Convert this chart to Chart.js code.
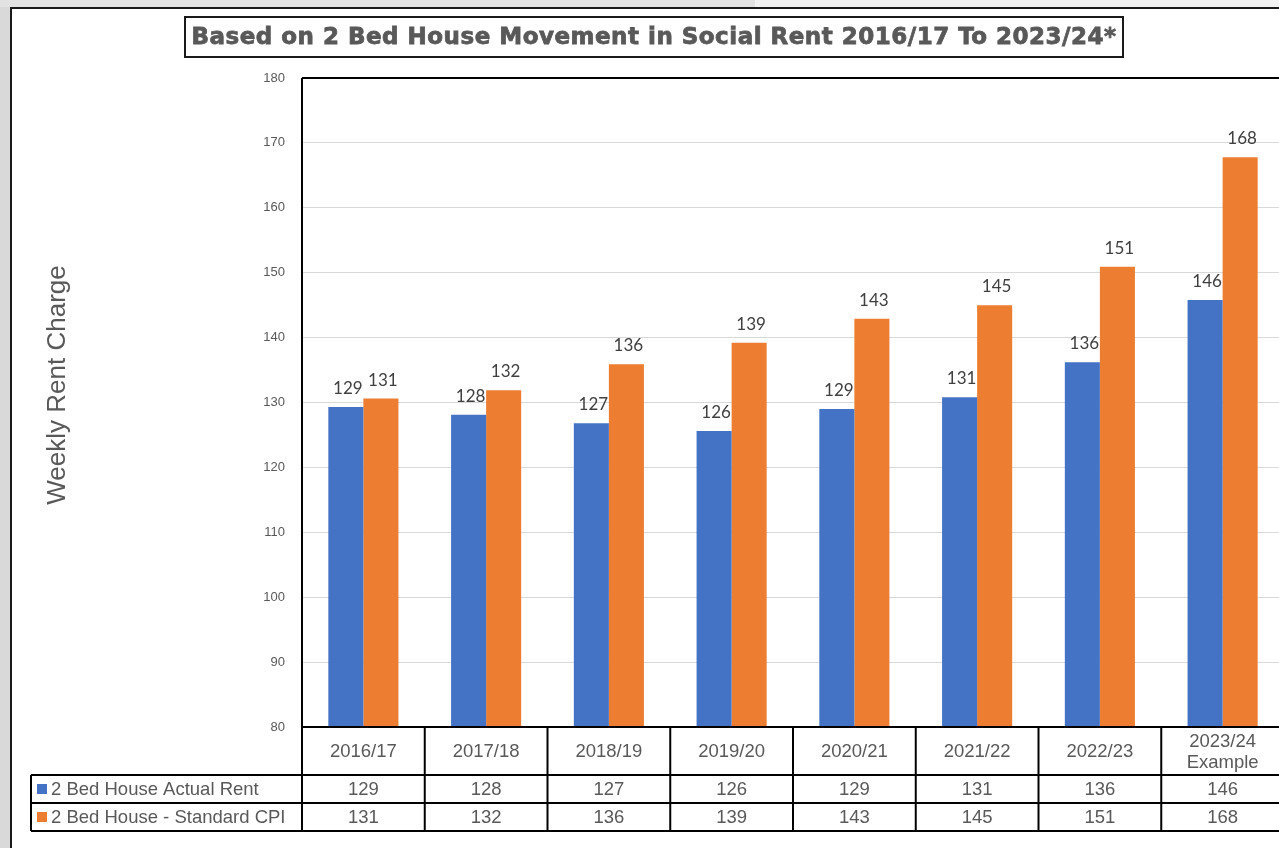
<!DOCTYPE html>
<html>
<head>
<meta charset="utf-8">
<script src="https://cdn.jsdelivr.net/npm/chart.js@4.4.0/dist/chart.umd.min.js"></script>
<style>
html,body{margin:0;padding:0;overflow:hidden;background:#e2e2e2;}
#wrap{width:1300px;height:848px;}
</style>
</head>
<body>
<div id="wrap"><canvas id="c" width="1300" height="848"></canvas></div>
<script>
// ---- data ----
const categories = [["2016/17"],["2017/18"],["2018/19"],["2019/20"],["2020/21"],["2021/22"],["2022/23"],["2023/24","Example"]];
const seriesNames = ["2 Bed House Actual Rent","2 Bed House - Standard CPI"];
const actualRent  = [129.3,128.1,126.8,125.6,129.0,130.8,136.2,145.8];
const standardCPI = [130.6,131.9,135.9,139.2,142.9,145.0,150.9,167.8];
const yMin = 80, yMax = 180, yStep = 10;
const chartTitle = "Based on 2 Bed House Movement in Social Rent 2016/17 To 2023/24*";
const yAxisTitle = "Weekly Rent Charge";
const seriesColors = ["#4472C4","#ED7D31"];

const GRAY = "#595959";

const customPlugin = {
  id: 'custom',
  beforeDraw(chart){
    const ctx = chart.ctx, W = chart.width, H = chart.height;
    ctx.save();
    ctx.fillStyle = '#e2e2e2'; ctx.fillRect(0,0,W,H);
    ctx.fillStyle = '#f1f1f1'; ctx.fillRect(755,0,W-755,7);
    ctx.fillStyle = '#d9d9d9'; ctx.fillRect(0,7,10,H-7);
    ctx.fillStyle = '#ffffff'; ctx.fillRect(10,7,W-10,H-7);
    ctx.strokeStyle = '#1a1a1a'; ctx.lineWidth = 2;
    ctx.beginPath(); ctx.moveTo(11,H); ctx.lineTo(11,8); ctx.lineTo(W,8); ctx.stroke();
    // title box
    ctx.strokeRect(185,17,938,40);
    ctx.fillStyle = GRAY;
    ctx.strokeStyle = GRAY;
    ctx.lineWidth = 0.8;
    ctx.font = 'bold 23px "DejaVu Sans"';
    try { ctx.letterSpacing = '0.5px'; } catch(e) {}
    ctx.textAlign = 'center'; ctx.textBaseline = 'middle';
    ctx.fillText(chartTitle, 654, 38);
    ctx.strokeText(chartTitle, 654, 38);
    try { ctx.letterSpacing = '0px'; } catch(e) {}
    // y axis title
    ctx.translate(58,385); ctx.rotate(-Math.PI/2);
    ctx.font = '26px "Liberation Sans"';
    ctx.fillText(yAxisTitle, 0, 0);
    ctx.restore();
  },
  afterDatasetsDraw(chart){
    const ctx = chart.ctx;
    ctx.save();
    ctx.font = '17px Lato';
    ctx.fillStyle = '#404040';
    ctx.textAlign = 'center'; ctx.textBaseline = 'alphabetic';
    chart.data.datasets.forEach((ds, di) => {
      const meta = chart.getDatasetMeta(di);
      meta.data.forEach((el, i) => {
        ctx.fillText(String(Math.round(ds.data[i])), el.x + 2, el.y - 13);
      });
    });
    ctx.restore();
  },
  afterDraw(chart){
    const ctx = chart.ctx, a = chart.chartArea, xs = chart.scales.x;
    const n = categories.length;
    const half = (xs.getPixelForValue(1) - xs.getPixelForValue(0)) / 2;
    const hTop = a.bottom, r1 = a.bottom + 48, r2 = r1 + 28, r3 = r2 + 28;
    const tableLeft = 31;
    ctx.save();
    ctx.strokeStyle = '#000'; ctx.lineWidth = 2;
    ctx.beginPath();
    ctx.moveTo(a.left, a.top); ctx.lineTo(a.right, a.top);
    ctx.moveTo(a.left, a.top); ctx.lineTo(a.left, r3);
    ctx.moveTo(a.left, hTop); ctx.lineTo(a.right, hTop);
    ctx.moveTo(tableLeft, r1); ctx.lineTo(a.right, r1);
    ctx.moveTo(tableLeft, r2); ctx.lineTo(a.right, r2);
    ctx.moveTo(tableLeft, r3); ctx.lineTo(a.right, r3);
    ctx.moveTo(tableLeft, r1); ctx.lineTo(tableLeft, r3);
    for (let i = 0; i < n; i++) {
      const xb = xs.getPixelForValue(i) + half;
      ctx.moveTo(xb, hTop); ctx.lineTo(xb, r3);
    }
    ctx.stroke();

    ctx.fillStyle = GRAY;
    ctx.font = '18.5px "Liberation Sans"';
    ctx.textAlign = 'center'; ctx.textBaseline = 'middle';
    const lh = 21;
    categories.forEach((lab, i) => {
      const x = xs.getPixelForValue(i);
      const cy = (hTop + r1) / 2 + 1;
      const y0 = cy - (lab.length - 1) * lh / 2;
      lab.forEach((t, k) => ctx.fillText(t, x, y0 + k * lh));
      ctx.fillText(String(Math.round(actualRent[i])), x, (r1 + r2) / 2 + 1);
      ctx.fillText(String(Math.round(standardCPI[i])), x, (r2 + r3) / 2 + 1);
    });
    ctx.textAlign = 'left';
    [[r1, r2], [r2, r3]].forEach((rr, k) => {
      const cy = (rr[0] + rr[1]) / 2;
      ctx.fillStyle = seriesColors[k];
      ctx.fillRect(37, cy - 5, 10, 10);
      ctx.fillStyle = GRAY;
      ctx.fillText(seriesNames[k], 51, cy + 1);
    });
    ctx.restore();
  }
};

new Chart(document.getElementById('c'), {
  type: 'bar',
  data: {
    labels: categories,
    datasets: [
      { label: seriesNames[0], data: actualRent, backgroundColor: seriesColors[0], borderWidth: 0 },
      { label: seriesNames[1], data: standardCPI, backgroundColor: seriesColors[1], borderWidth: 0 }
    ]
  },
  options: {
    responsive: false,
    devicePixelRatio: 1,
    animation: false,
    layout: { padding: { left: 0, top: 78, right: 16, bottom: 73 } },
    datasets: { bar: { categoryPercentage: 0.571, barPercentage: 1.0 } },
    plugins: { legend: { display: false }, tooltip: { enabled: false }, title: { display: false } },
    scales: {
      x: {
        grid: { display: false, drawTicks: false },
        border: { display: false },
        ticks: { display: false },
        afterFit(s) { s.height = 48; }
      },
      y: {
        min: yMin, max: yMax,
        ticks: { stepSize: yStep, color: GRAY, font: { family: 'Liberation Sans', size: 13 }, padding: 17 },
        grid: { color: '#d9d9d9', lineWidth: 1, drawTicks: false },
        border: { display: false },
        afterFit(s) { s.width = 302; }
      }
    }
  },
  plugins: [customPlugin]
});
</script>
</body>
</html>
